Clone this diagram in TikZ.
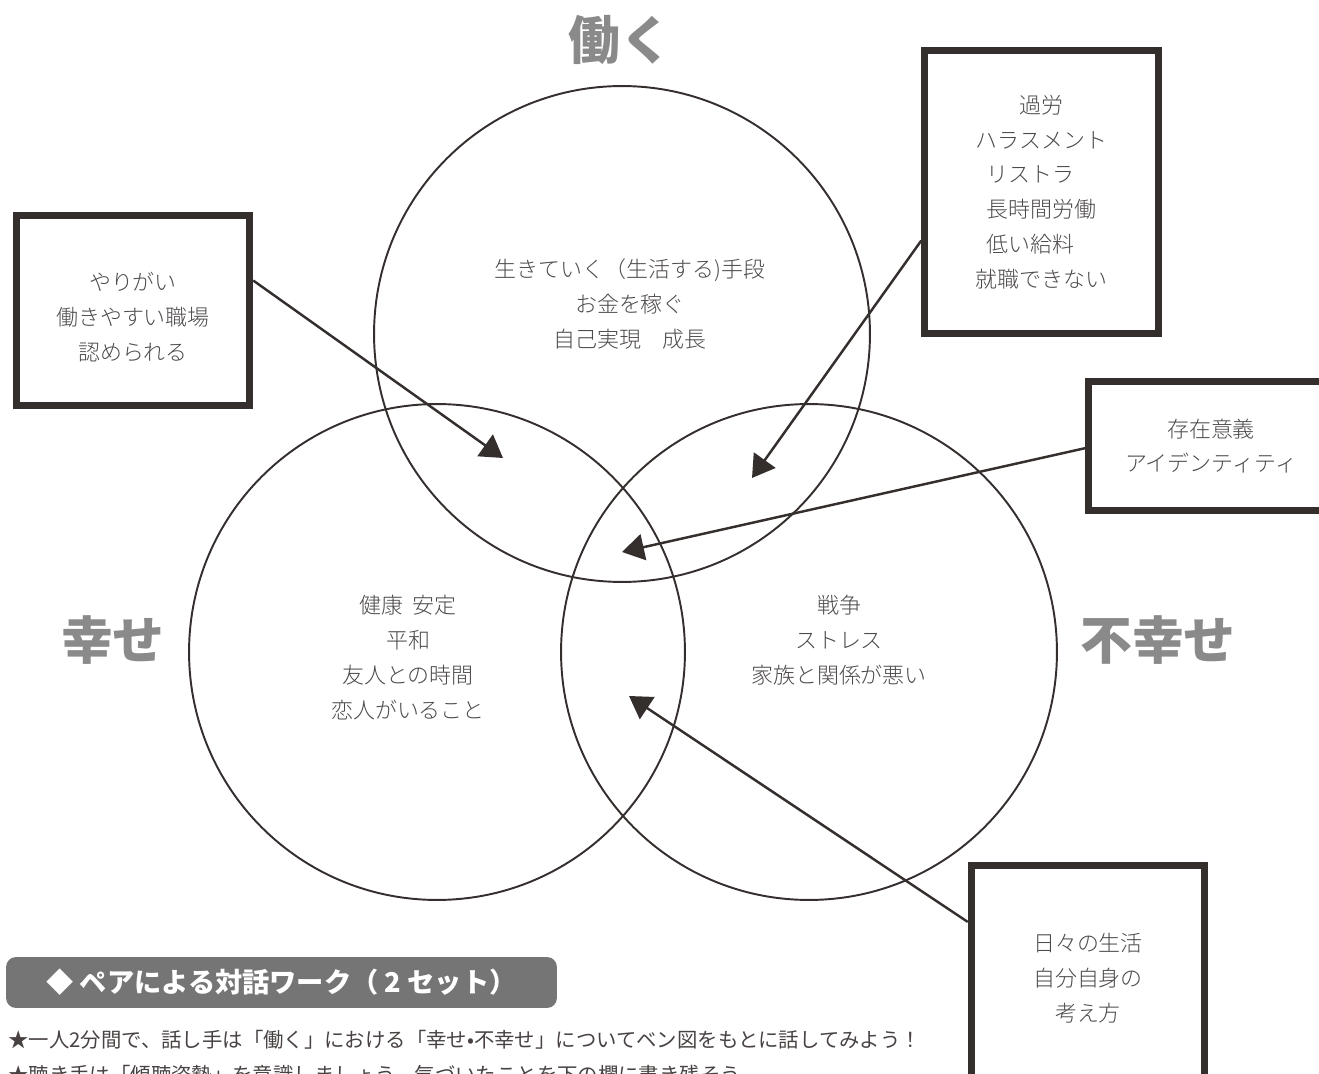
\documentclass[tikz,border=0pt]{standalone}
\usepackage{fontspec}
\setmainfont{Noto Sans CJK JP}
\IfFontExistsTF{Noto Sans CJK JP Light}{\newfontfamily\thinfont{Noto Sans CJK JP Light}}{\newfontfamily\thinfont{Noto Sans CJK JP}}
\usepackage{tikz}
\usetikzlibrary{arrows.meta,positioning,shapes}
\definecolor{ink}{HTML}{342E2D}
\definecolor{greytext}{HTML}{4D4949}
\definecolor{headgrey}{HTML}{8A8A8A}
\definecolor{bannergrey}{HTML}{757575}

\begin{document}
\begin{tikzpicture}[x=0.02cm,y=-0.02cm,>={Triangle[length=12.5pt,width=15pt]},auto]
\tikzstyle{ring}=[circle,draw=ink,line width=1.1pt,minimum size=9.92cm,inner sep=0pt]
\tikzstyle{note}=[rectangle,draw=ink,line width=4pt,align=center,text=greytext,
font=\thinfont\fontsize{12.5}{19.8}\selectfont,minimum width=4.67cm]
\tikzstyle{words}=[align=center,text=greytext,font=\thinfont\fontsize{12.5}{19.9}\selectfont]
\tikzstyle{bigword}=[text=headgrey,font=\bfseries\fontsize{29.5}{30}\selectfont]
\tikzstyle{pointer}=[->,draw=ink,line width=1.4pt]
\tikzstyle{banner}=[fill=bannergrey,rounded corners=0.2cm,minimum width=11.02cm,
minimum height=1.02cm,text=white,font=\bfseries\fontsize{15.5}{16}\selectfont]
\tikzstyle{guide}=[anchor=west,inner xsep=0pt,text=ink!90,font=\fontsize{11.6}{14}\selectfont]

\useasboundingbox (0,0) rectangle (1319,1074);
\clip (0,0) rectangle (1319,1074);

\node[ring] (work)    at (622,334) {};
\node[ring] (happy)   at (437,652) {};
\node[ring] (unhappy) at (809,652) {};

\node[bigword] (worklabel)    at (620,40)  {働く};
\node[bigword] (happylabel)   at (113,640) {幸せ};
\node[bigword] (unhappylabel) at (1158,640) {不幸せ};

\node[words] (worktext)    at (630,304) {生きていく（生活する)手段\\お金を稼ぐ\\自己実現　成長};
\node[words] (happytext)   at (408,658) {健康\hspace{0.45em}安定\\平和\\友人との時間\\恋人がいること};
\node[words] (unhappytext) at (839,640) {戦争\\ストレス\\家族と関係が悪い};

\node[note, minimum height=3.8cm, text height=57.8pt] (reward) at (133,310.5) {やりがい\\働きやすい職場\\認められる};
\node[note, minimum height=5.66cm] (burden)   at (1041.5,192) {過労\\ハラスメント\\リストラ　\\長時間労働\\低い給料　\\就職できない};
\node[note, minimum height=2.58cm, minimum width=4.9cm] (identity) at (1211,446) {存在意義\\アイデンティティ};
\node[note, minimum height=4.5cm]  (daily)    at (1088,978) {日々の生活\\自分自身の\\考え方};

\coordinate (tipA) at (503,458);
\coordinate (tipB) at (752,478);
\coordinate (tipC) at (622,552);
\coordinate (tipD) at (629,696);

\path (reward.14) edge[pointer] (tipA)
(burden.202) edge[pointer] (tipB)
(identity.181) edge[pointer] (tipC)
(daily.155) edge[pointer] (tipD);

\node[banner] (pairwork) at (281.5,982.5) {◆ ペアによる対話ワーク（ 2 セット）};
\node[guide] (speaker)  at (8,1040) {★一人2分間で、話し手は「働く」における「幸せ•不幸せ」についてベン図をもとに話してみよう！};
\node[guide] (listener) at (8,1075) {★聴き手は「傾聴姿勢」を意識しましょう。気づいたことを下の欄に書き残そう};

\end{tikzpicture}
\end{document}
